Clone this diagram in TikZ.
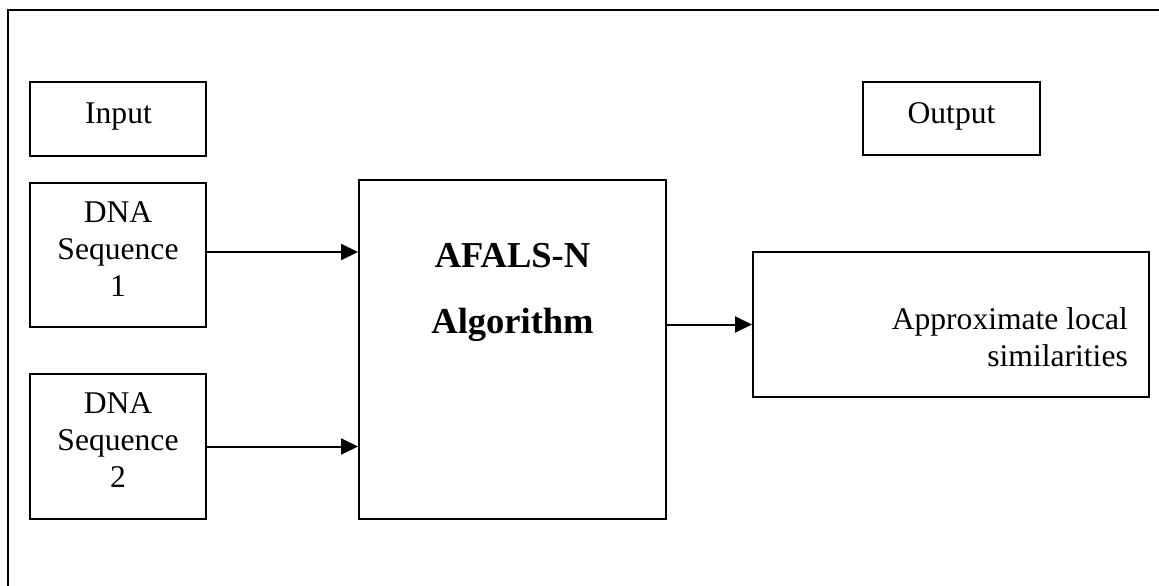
\documentclass[tikz,border=0pt]{standalone}
\usepackage{fontspec}
\setmainfont{Liberation Serif}
\usetikzlibrary{arrows.meta}
\begin{document}
\begin{tikzpicture}[x=1pt,y=-1pt,
  box/.style={draw, line width=2pt, inner sep=0pt},
  txt/.style={inner sep=0pt, font=\fontsize{31.6}{37}\selectfont},
  btxt/.style={inner sep=0pt, font=\fontsize{36.5}{66}\selectfont\bfseries},
  arr/.style={line width=2pt, -{Triangle[length=17pt,width=16pt]}},
  frame/.style={line width=2pt}]
\useasboundingbox (0,0) rectangle (1159,586);
% outer frame (only top and left edges visible)
\coordinate (ftr) at (1165,10);
\coordinate (ftl) at (8,10);
\coordinate (fbl) at (8,592);
\draw[frame] (ftr) -- (ftl) -- (fbl);
% boxes
\node[box, minimum width=176pt, minimum height=74pt] (in) at (118,119) {};
\node[box, minimum width=177pt, minimum height=73pt] (out) at (951.5,118.5) {};
\node[box, minimum width=176pt, minimum height=144pt] (s1) at (118,255) {};
\node[box, minimum width=176pt, minimum height=145pt] (s2) at (118,446.5) {};
\node[box, minimum width=307pt, minimum height=339pt] (alg) at (512.5,349.5) {};
\node[box, minimum width=396pt, minimum height=145pt] (app) at (951,324.5) {};
% texts
\node[txt, anchor=base] (tin) at (118.5,123) {Input};
\node[txt, anchor=base] (tout) at (951.5,123) {Output};
\node[txt, anchor=base, align=center] (ts1) at (118,296) {DNA\\Sequence\\1};
\node[txt, anchor=base, align=center] (ts2) at (118,487) {DNA\\Sequence\\2};
\node[btxt, anchor=base, align=center] (talg) at (512.5,333) {AFALS-N\\Algorithm};
\node[txt, anchor=base east, align=right] (tapp) at (1128,366) {Approximate local\\similarities};
% connectors
\draw[arr] ([yshift=3pt]s1.east) -- ([yshift=3pt]s1.east -| alg.west);
\draw[arr] (s2.east) -- (s2.east -| alg.west);
\draw[arr] (app.west -| alg.east) -- (app.west);
\end{tikzpicture}
\end{document}
